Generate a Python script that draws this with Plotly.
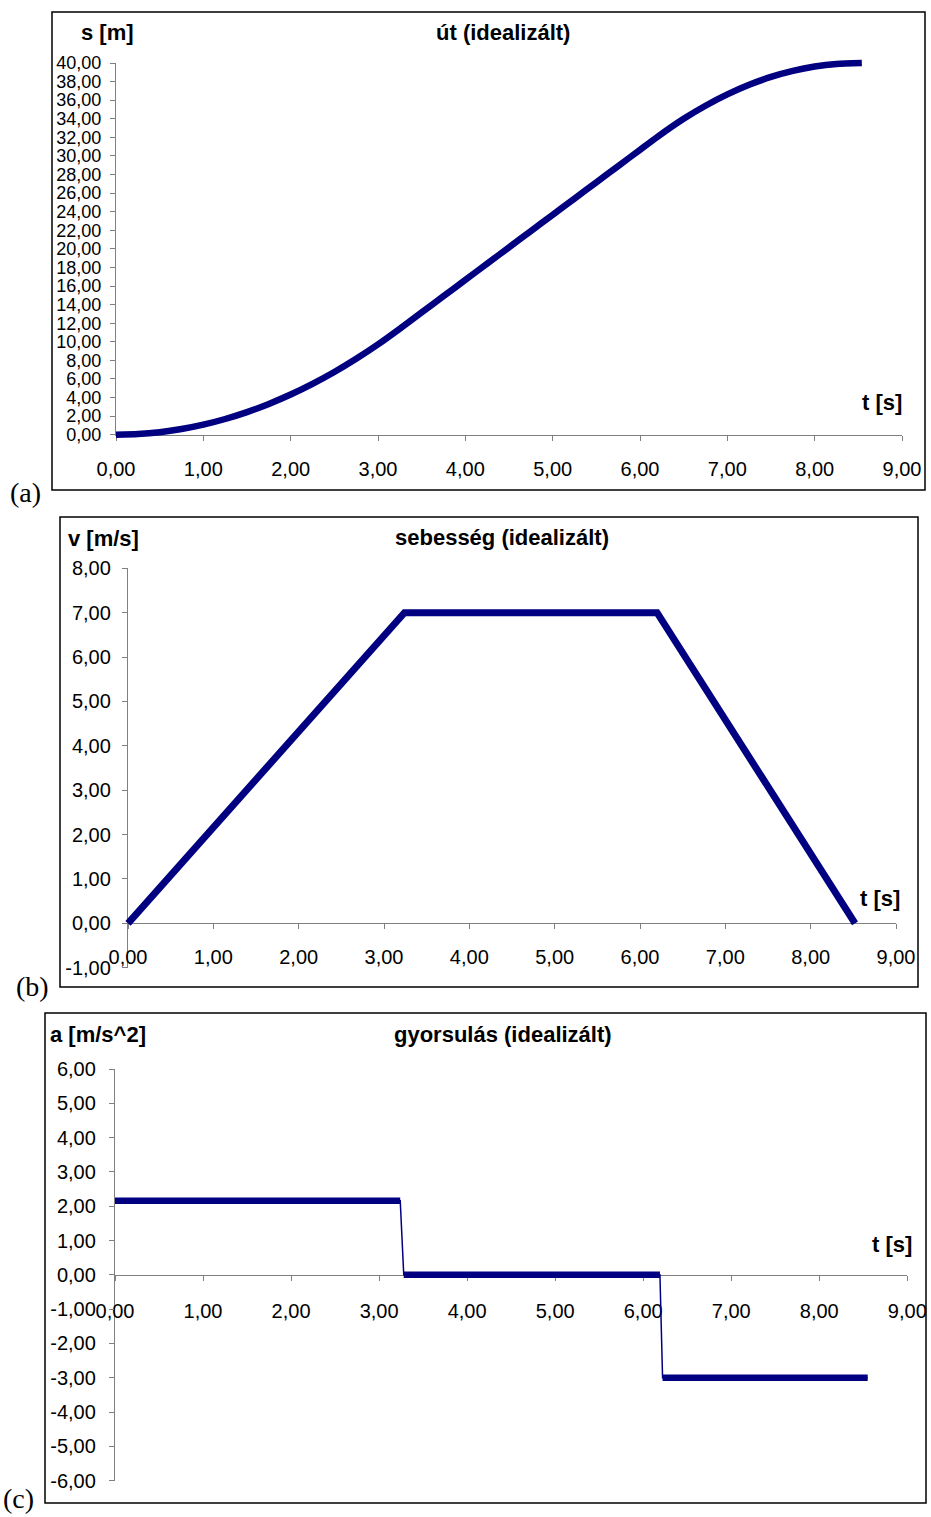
import plotly.graph_objects as go

W, H = 931, 1517
NAVY = "#000080"
GREY = "#808080"
SANS = "Liberation Sans, Arial, sans-serif"
SERIF = "Liberation Serif, Times New Roman, serif"

# ---- data -------------------------------------------------------------
# (a) distance travelled
t_s = [0.00, 0.25, 0.50, 0.75, 1.00, 1.25, 1.50, 1.75, 2.00, 2.25, 2.50, 2.75,
       3.00, 3.24, 3.50, 3.75, 4.00, 4.25, 4.50, 4.75, 5.00, 5.25, 5.50, 5.75,
       6.00, 6.20, 6.50, 6.75, 7.00, 7.25, 7.50, 7.75, 8.00, 8.25, 8.54]
s_m = [0.00, 0.07, 0.27, 0.61, 1.08, 1.69, 2.43, 3.31, 4.32, 5.47, 6.75, 8.17,
       9.72, 11.34, 13.16, 14.91, 16.66, 18.41, 20.16, 21.91, 23.66, 25.41, 27.16, 28.91,
       30.66, 32.06, 34.00, 35.40, 36.62, 37.65, 38.50, 39.15, 39.62, 39.90, 40.00]

# (b) velocity
t_v = [0.00, 3.24, 6.20, 8.52]
v_ms = [0.00, 7.00, 7.00, 0.00]

# (c) acceleration (three constant phases)
t_a = [0.00, 3.24, 3.28, 6.19, 6.22, 8.55]
a_ms2 = [2.16, 2.16, 0.00, 0.00, -3.00, -3.00]

# tick values
x_ticks = [0, 1, 2, 3, 4, 5, 6, 7, 8, 9]
s_ticks = [0, 2, 4, 6, 8, 10, 12, 14, 16, 18, 20, 22, 24, 26, 28, 30, 32, 34, 36, 38, 40]
v_ticks = [-1, 0, 1, 2, 3, 4, 5, 6, 7, 8]
a_ticks = [-6, -5, -4, -3, -2, -1, 0, 1, 2, 3, 4, 5, 6]

titles = ["út (idealizált)", "sebesség (idealizált)", "gyorsulás (idealizált)"]
y_names = ["s [m]", "v [m/s]", "a [m/s^2]"]
x_name = "t [s]"
panel_tags = ["(a)", "(b)", "(c)"]


def fmt(v):
    # two decimals, decimal comma, plain hyphen for negatives
    return f"{v:.2f}".replace(".", ",")


# ---- panel geometry (pixels) -----------------------------------------
# x0/x9: pixel of t=0 / t=9 ; ylo/yhi: axis range ; pylo/pyhi: their pixels
panels = [
    dict(x0=116, x9=902, ylo=0, yhi=40, pylo=434.7, pyhi=63.0, yticks=s_ticks,
         box=(52, 12, 925, 490), yfs=18, xfs=20, ystand=5, xstand=11,
         title_xy=(503, 33), yname_xy=(107, 33), xname_xy=(882, 402), tag_xy=(25, 492)),
    dict(x0=128, x9=896, ylo=-1, yhi=8, pylo=967.7, pyhi=568.3, yticks=v_ticks,
         box=(60, 517, 918, 987), yfs=20, xfs=20, ystand=7, xstand=11,
         title_xy=(502, 538), yname_xy=(103, 539), xname_xy=(880, 898), tag_xy=(32, 986)),
    dict(x0=115, x9=907.3, ylo=-6, yhi=6, pylo=1480.7, pyhi=1069.0, yticks=a_ticks,
         box=(45, 1013, 926, 1503), yfs=20, xfs=20, ystand=9, xstand=13,
         title_xy=(503, 1034), yname_xy=(98, 1034), xname_xy=(892, 1244), tag_xy=(18, 1498)),
]


def pxx(px):
    return px / W


def pxy(py):
    return 1 - py / H


fig = go.Figure()
layout = dict(
    width=W, height=H,
    margin=dict(l=0, r=0, t=0, b=0, pad=0, autoexpand=False),
    paper_bgcolor="white", plot_bgcolor="rgba(0,0,0,0)",
    showlegend=False,
    font=dict(family=SANS, color="black"),
)
shapes, annotations = [], []

for i, p in enumerate(panels):
    n = i + 1
    ppx = (p["x9"] - p["x0"]) / 9.0
    ppy = (p["pylo"] - p["pyhi"]) / (p["yhi"] - p["ylo"])
    py_zero = p["pylo"] - (0 - p["ylo"]) * ppy

    # visible axes
    xa = "xaxis" if n == 1 else f"xaxis{n}"
    ya = "yaxis" if n == 1 else f"yaxis{n}"
    xid = "x" if n == 1 else f"x{n}"
    yid = "y" if n == 1 else f"y{n}"
    common = dict(showgrid=False, zeroline=False, showline=True, linecolor=GREY,
                  linewidth=1.3, ticks="outside", ticklen=5, tickcolor=GREY,
                  tickwidth=1.3, fixedrange=True, automargin=False)
    xdef = dict(common, domain=[pxx(p["x0"]), pxx(p["x9"])], range=[0, 9],
                tickvals=x_ticks, ticktext=[fmt(v) for v in x_ticks],
                tickfont=dict(size=p["xfs"], family=SANS, color="black"),
                ticklabelstandoff=p["xstand"])
    if p["ylo"] < 0:
        xdef.update(anchor="free", position=pxy(py_zero))
    else:
        xdef.update(anchor=yid)
    layout[xa] = xdef
    layout[ya] = dict(common, domain=[pxy(p["pylo"]), pxy(p["pyhi"])],
                      range=[p["ylo"], p["yhi"]],
                      tickvals=p["yticks"], ticktext=[fmt(v) for v in p["yticks"]],
                      anchor=xid, tickfont=dict(size=p["yfs"], family=SANS, color="black"),
                      ticklabelstandoff=p["ystand"])
    fig.add_trace(go.Scatter(x=[None], y=[None], xaxis=xid, yaxis=yid,
                             hoverinfo="skip", showlegend=False))

    # hidden full-page axes carrying the data with the same scale
    dn = n + 3
    layout[f"xaxis{dn}"] = dict(domain=[0, 1], visible=False, fixedrange=True,
                                anchor=f"y{dn}", automargin=False,
                                range=[(0 - p["x0"]) / ppx, (W - p["x0"]) / ppx])
    layout[f"yaxis{dn}"] = dict(domain=[0, 1], visible=False, fixedrange=True,
                                anchor=f"x{dn}", automargin=False,
                                range=[p["ylo"] - (H - p["pylo"]) / ppy,
                                       p["ylo"] + p["pylo"] / ppy])

    # frame
    bx0, by0, bx1, by1 = p["box"]
    shapes.append(dict(type="rect", xref="paper", yref="paper",
                       x0=pxx(bx0), x1=pxx(bx1), y0=pxy(by1), y1=pxy(by0),
                       line=dict(color="black", width=1.5), fillcolor="rgba(0,0,0,0)"))

    # texts
    def note(text, xy, size, family=SANS, bold=True):
        annotations.append(dict(
            text=f"<b>{text}</b>" if bold else text, x=pxx(xy[0]), y=pxy(xy[1]),
            xref="paper", yref="paper", xanchor="center", yanchor="middle",
            showarrow=False, font=dict(size=size, family=family, color="black")))

    note(titles[i], p["title_xy"], 22)
    note(y_names[i], p["yname_xy"], 22)
    note(x_name, p["xname_xy"], 22)
    note(panel_tags[i], p["tag_xy"], 28, family=SERIF, bold=False)

# distance curve
fig.add_trace(go.Scatter(x=t_s, y=s_m, xaxis="x4", yaxis="y4", mode="lines",
                         line=dict(color=NAVY, width=6.5, shape="spline", smoothing=0.6),
                         hoverinfo="skip"))
# velocity trapezoid
fig.add_trace(go.Scatter(x=t_v, y=v_ms, xaxis="x5", yaxis="y5", mode="lines",
                         line=dict(color=NAVY, width=7), hoverinfo="skip"))
# acceleration: thin connecting line plus thick constant phases
fig.add_trace(go.Scatter(x=t_a, y=a_ms2, xaxis="x6", yaxis="y6", mode="lines",
                         line=dict(color=NAVY, width=1.5), hoverinfo="skip"))
for k in range(0, len(t_a), 2):
    fig.add_trace(go.Scatter(x=t_a[k:k + 2], y=a_ms2[k:k + 2], xaxis="x6", yaxis="y6",
                             mode="lines", line=dict(color=NAVY, width=6.5),
                             hoverinfo="skip"))

layout["shapes"] = shapes
layout["annotations"] = annotations
fig.update_layout(**layout)
fig.write_html("out.html")
